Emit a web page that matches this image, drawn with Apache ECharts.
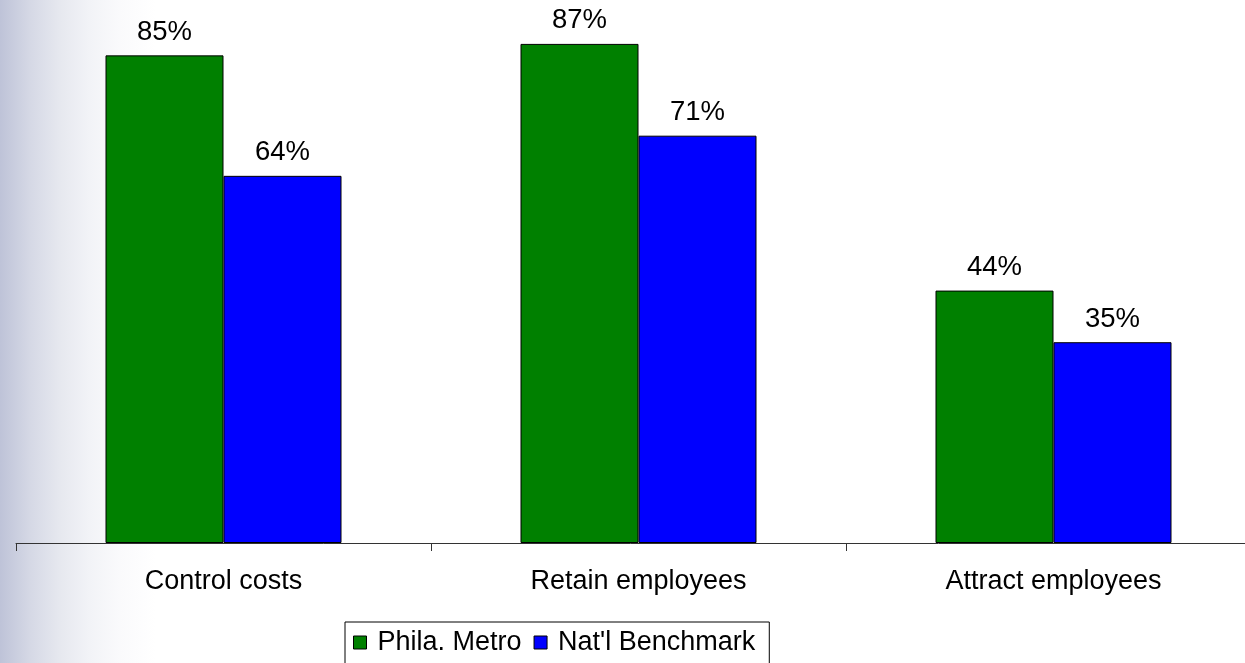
<!DOCTYPE html>
<html>
<head>
<meta charset="utf-8">
<script src="https://cdn.jsdelivr.net/npm/echarts@6/dist/echarts.min.js"></script>
<style>
html,body{margin:0;padding:0;}
#c{width:1245px;height:663px;}
</style>
</head>
<body>
<div id="c"></div>
<script>
var categories = ['Control costs', 'Retain employees', 'Attract employees'];
var seriesNames = ['Phila. Metro', "Nat'l Benchmark"];
var philaMetro = [85, 87, 44];
var natlBenchmark = [64, 71, 35];

var chart = echarts.init(document.getElementById('c'));
var font = '"Liberation Sans", Arial, sans-serif';
chart.setOption({
  animation: false,
  backgroundColor: {
    type: 'linear', x: 0, y: 0, x2: 1, y2: 0,
    colorStops: [
      {offset: 0, color: '#bec3d8'},
      {offset: 0.024, color: '#d5d8e5'},
      {offset: 0.048, color: '#e6e8ef'},
      {offset: 0.072, color: '#f2f3f7'},
      {offset: 0.096, color: '#fafafc'},
      {offset: 0.125, color: '#ffffff'},
      {offset: 1, color: '#ffffff'}
    ]
  },
  grid: {left: 16, width: 1245, top: -2, bottom: 120, containLabel: false, outerBoundsMode: 'none'},
  legend: {
    left: 345, top: 622,
    data: seriesNames,
    itemWidth: 13, itemHeight: 13, itemGap: 12,
    icon: 'rect',
    backgroundColor: '#ffffff',
    borderColor: '#000000', borderWidth: 1, borderRadius: 0,
    padding: [7, 14, 12, 8],
    textStyle: {fontFamily: font, fontSize: 27, color: '#000', padding: [0, 0, 0, 6]},
    itemStyle: {borderColor: '#000', borderWidth: 1}
  },
  xAxis: {
    type: 'category',
    data: categories,
    axisLine: {lineStyle: {color: '#333333', width: 1}},
    axisTick: {show: true, length: 8, lineStyle: {color: '#333333'}},
    axisLabel: {fontFamily: font, fontSize: 27, color: '#000', margin: 25}
  },
  yAxis: {
    type: 'value', min: 0, max: 95,
    show: false,
    splitLine: {show: false}
  },
  series: [
    {
      name: seriesNames[0], type: 'bar', data: philaMetro,
      barWidth: 118, barGap: '0%',
      itemStyle: {color: '#008000', borderColor: '#000', borderWidth: 1},
      label: {show: true, position: 'top', distance: 9, formatter: '{c}%', fontFamily: font, fontSize: 27.5, color: '#000'}
    },
    {
      name: seriesNames[1], type: 'bar', data: natlBenchmark,
      barWidth: 118, barGap: '0%',
      itemStyle: {color: '#0000ff', borderColor: '#000', borderWidth: 1},
      label: {show: true, position: 'top', distance: 9, formatter: '{c}%', fontFamily: font, fontSize: 27.5, color: '#000'}
    }
  ]
});
</script>
</body>
</html>
